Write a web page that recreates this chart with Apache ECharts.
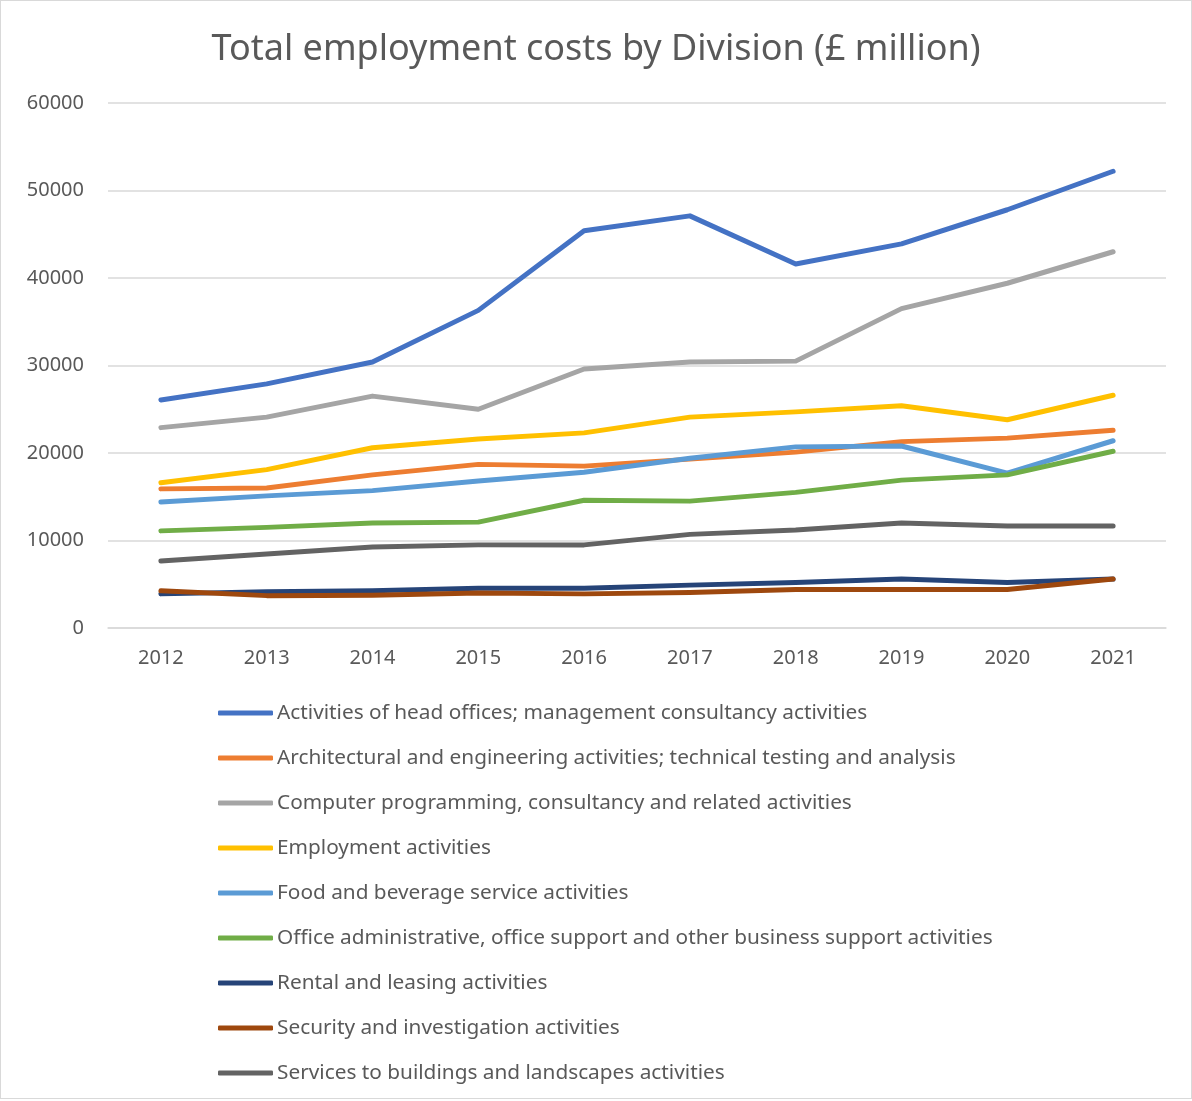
<!DOCTYPE html>
<html><head><meta charset="utf-8">
<script src="https://cdn.jsdelivr.net/npm/echarts@6/dist/echarts.min.js"></script>
<style>html,body{margin:0;padding:0;background:#fff}#c{position:absolute;left:0;top:0;width:1190px;height:1097px;border:1px solid #d9d9d9}</style>
</head><body><div id="c"></div>
<script>
const years = ['2012','2013','2014','2015','2016','2017','2018','2019','2020','2021'];
const names = [
 'Activities of head offices; management consultancy activities',
 'Architectural and engineering activities; technical testing and analysis',
 'Computer programming, consultancy and related activities',
 'Employment activities',
 'Food and beverage service activities',
 'Office administrative, office support and other business support activities',
 'Rental and leasing activities',
 'Security and investigation activities',
 'Services to buildings and landscapes activities'
];
const headOffices = [26060,27900,30400,36300,45400,47100,41600,43900,47800,52200];
const architectural = [15900,16000,17500,18700,18500,19300,20100,21300,21700,22600];
const computer = [22900,24100,26500,25000,29600,30400,30500,36500,39400,43000];
const employment = [16600,18100,20600,21600,22300,24100,24700,25400,23800,26600];
const food = [14400,15100,15700,16800,17800,19400,20700,20800,17700,21400];
const office = [11100,11500,12000,12100,14600,14500,15500,16900,17500,20200];
const rental = [3900,4150,4250,4550,4550,4900,5200,5600,5200,5600];
const security = [4250,3700,3750,4000,3900,4050,4400,4400,4400,5600];
const buildings = [7650,8450,9250,9500,9500,10700,11200,12000,11650,11650];
const colors = ['#4472C4','#ED7D31','#A5A5A5','#FFC000','#5B9BD5','#70AD47','#264478','#9E480E','#636363'];
const allData = [headOffices,architectural,computer,employment,food,office,rental,security,buildings];

const chart = echarts.init(document.getElementById('c'));
chart.setOption({
  animation:false,
  title:{text:'Total employment costs by Division (£ million)',left:'center',top:26,
    textStyle:{fontFamily:'Noto Sans',fontSize:36,fontWeight:'normal',color:'#595959'}},
  grid:{left:107,right:25,top:102,bottom:470},
  legend:{orient:'vertical',left:212,top:695,itemWidth:55,itemHeight:5,itemGap:21,
    icon:'roundRect',
    textStyle:{fontFamily:'Noto Sans',fontSize:20.8,lineHeight:24,color:'#595959',padding:[0,0,0,-1]},
    data:names},
  xAxis:{type:'category',data:years,boundaryGap:true,
    axisLine:{show:true,lineStyle:{color:'#d9d9d9',width:1.5}},axisTick:{show:false},
    axisLabel:{fontFamily:'Noto Sans',fontSize:20,color:'#595959',margin:20}},
  yAxis:{type:'value',min:0,max:60000,interval:10000,
    axisLine:{show:false},axisTick:{show:false},
    splitLine:{lineStyle:{color:'#d9d9d9',width:1.5}},
    axisLabel:{fontFamily:'Noto Sans',fontSize:20,color:'#595959',margin:24,formatter:v=>String(v)}},
  series: names.map((n,i)=>({name:n,type:'line',data:allData[i],showSymbol:false,symbol:'none',
    itemStyle:{color:colors[i]},
    lineStyle:{color:colors[i],width:5,cap:'round',join:'round'}}))
});
</script></body></html>
